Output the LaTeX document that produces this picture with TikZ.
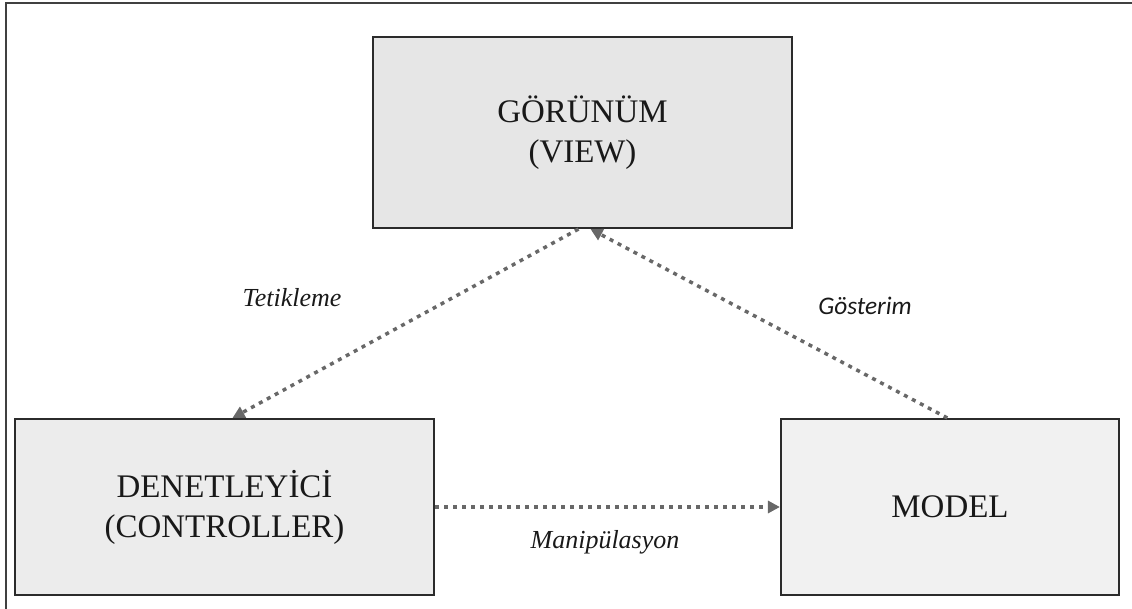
\documentclass[tikz,border=0pt]{standalone}
\usepackage{fontspec}
\setmainfont{Liberation Serif}
\newfontfamily\calfont{Carlito}
\usetikzlibrary{arrows.meta}
\definecolor{edgegray}{HTML}{2B2B2B}
\definecolor{framegray}{HTML}{404040}
\definecolor{dotgray}{HTML}{686868}
\definecolor{viewfill}{HTML}{E6E6E6}
\definecolor{ctrlfill}{HTML}{ECECEC}
\definecolor{modelfill}{HTML}{F1F1F1}
\tikzset{
  mvcbox/.style={draw=edgegray, line width=1.6pt, align=center, inner sep=0pt,
    font=\fontsize{24.7}{30}\selectfont, text=black!90},
  flow/.style={draw=dotgray, line width=2.6pt, dash pattern=on 3pt off 3.75pt,
    -{Triangle[length=9pt,width=9pt]}},
  flowlabel/.style={font=\fontsize{19.5}{22}\selectfont\itshape, text=black!90, inner sep=0pt},
}
\begin{document}
\begin{tikzpicture}[x=0.75pt,y=-0.75pt]
\useasboundingbox (0,0) rectangle (1132,609);
% outer frame
\draw[framegray, line width=1.2pt] (1132,3) -- (6,3) -- (6,609);
% the three MVC components
\node[mvcbox, fill=viewfill, minimum width=314.25pt, minimum height=143.25pt]
  (view) at (582.5,132.5) {GÖRÜNÜM\\(VIEW)};
\node[mvcbox, fill=ctrlfill, minimum width=314.25pt, minimum height=132pt]
  (ctrl) at (224.5,507) {DENETLEYİCİ\\(CONTROLLER)};
\node[mvcbox, fill=modelfill, minimum width=253.5pt, minimum height=132pt]
  (model) at (950,507) {MODEL};
% interactions
\draw[flow] ([xshift=-3pt]view.south) -- ([xshift=6pt]ctrl.north);
\draw[flow] ([xshift=-2pt]model.north) -- ([xshift=6pt]view.south);
\draw[flow] (ctrl.east) -- (model.west);
% interaction labels
\node[flowlabel] (ltrig) at (292,298) {Tetikleme};
\node[flowlabel, font=\calfont\fontsize{19}{22}\selectfont\itshape] (lshow) at (865,306) {Gösterim};
\node[flowlabel] (lmanip) at (605,542) {Manipülasyon};
\end{tikzpicture}
\end{document}
